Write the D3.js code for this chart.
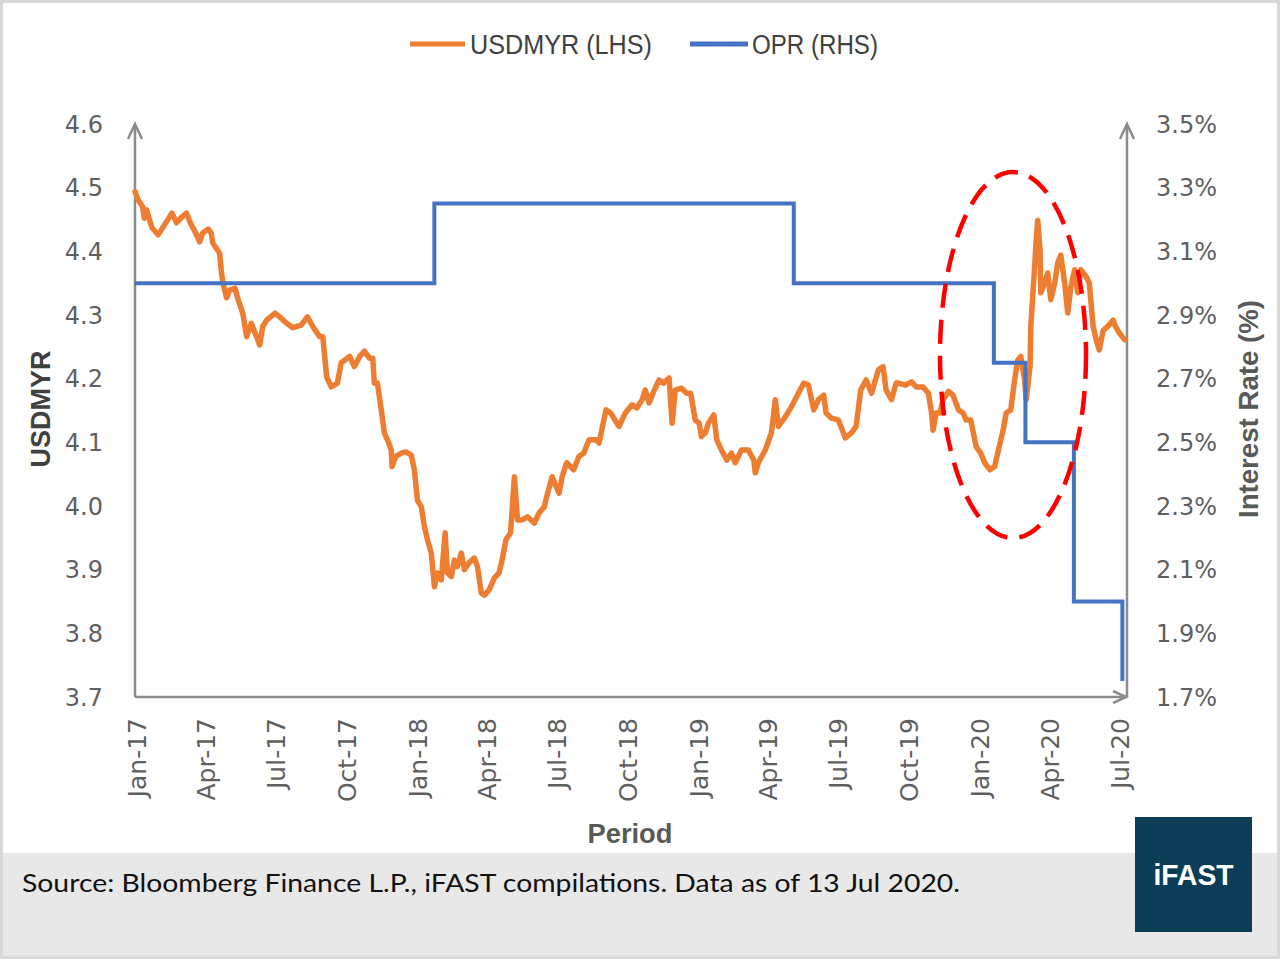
<!DOCTYPE html>
<html>
<head>
<meta charset="utf-8">
<script src="https://cdn.jsdelivr.net/npm/d3@7"></script>
<style>
  html, body { margin: 0; padding: 0; background: #ffffff; }
  svg { display: block; }
</style>
</head>
<body>
<svg id="chart" width="1280" height="961"></svg>
<script>
// ---------------- DATA ----------------
// USDMYR: days since 2017-01-01 and exchange rate
const usdDays = [0,4,10,12,15,22,30,36,48,54,61,67,71,78,84,88,95,99,101,110,112,114,119,123,130,134,140,145,151,158,162,166,171,182,188,197,205,216,224,231,240,244,249,255,263,268,279,285,292,298,305,309,311,315,320,324,328,333,334,339,346,352,359,363,367,372,376,380,385,389,393,398,403,406,411,415,419,424,428,434,441,445,450,454,460,467,473,477,482,488,493,497,503,510,519,525,532,535,542,551,555,561,570,577,583,590,599,603,612,618,629,637,646,652,659,663,668,674,681,687,694,698,702,710,717,722,728,733,736,741,745,752,756,762,769,775,780,788,797,804,806,810,819,827,832,836,845,853,862,869,875,882,888,895,898,905,914,923,931,937,943,950,957,966,972,976,983,989,992,1001,1009,1015,1024,1031,1035,1037,1041,1046,1050,1057,1063,1070,1076,1080,1086,1093,1099,1104,1111,1117,1121,1128,1132,1138,1143,1147,1151,1156,1158,1163,1164,1169,1171,1173,1176,1177,1182,1186,1190,1195,1199,1203,1208,1212,1216,1221,1225,1229,1236,1240,1245,1249,1253,1258,1264,1271,1274,1279,1286];
const usdValues = [4.494,4.481,4.470,4.452,4.465,4.437,4.426,4.437,4.460,4.445,4.454,4.460,4.447,4.431,4.415,4.429,4.435,4.429,4.413,4.397,4.371,4.352,4.327,4.339,4.342,4.324,4.303,4.266,4.287,4.266,4.253,4.282,4.292,4.303,4.297,4.287,4.280,4.284,4.297,4.282,4.266,4.266,4.203,4.187,4.193,4.225,4.235,4.219,4.235,4.243,4.232,4.232,4.193,4.193,4.151,4.115,4.104,4.088,4.062,4.078,4.083,4.085,4.080,4.057,4.009,3.999,3.968,3.947,3.926,3.873,3.895,3.884,3.958,3.895,3.889,3.915,3.905,3.926,3.900,3.911,3.918,3.905,3.863,3.860,3.868,3.887,3.895,3.915,3.947,3.958,4.046,3.978,3.978,3.983,3.973,3.989,3.999,4.015,4.046,4.020,4.046,4.068,4.057,4.078,4.083,4.104,4.104,4.099,4.151,4.146,4.125,4.146,4.159,4.154,4.167,4.182,4.162,4.180,4.198,4.193,4.201,4.130,4.182,4.185,4.177,4.177,4.135,4.130,4.109,4.115,4.130,4.143,4.104,4.088,4.072,4.083,4.068,4.088,4.088,4.072,4.052,4.068,4.088,4.115,4.167,4.125,4.140,4.156,4.177,4.193,4.190,4.151,4.167,4.174,4.146,4.138,4.135,4.107,4.115,4.125,4.182,4.198,4.177,4.214,4.219,4.182,4.167,4.193,4.193,4.190,4.195,4.187,4.187,4.177,4.146,4.119,4.146,4.146,4.167,4.180,4.174,4.151,4.146,4.135,4.135,4.093,4.083,4.068,4.057,4.062,4.083,4.119,4.146,4.151,4.198,4.229,4.235,4.198,4.167,4.219,4.282,4.376,4.418,4.449,4.402,4.335,4.350,4.366,4.324,4.350,4.382,4.394,4.350,4.303,4.344,4.371,4.335,4.371,4.360,4.350,4.282,4.261,4.245,4.276,4.282,4.292,4.282,4.272,4.261];

// OPR (overnight policy rate, %) step changes
const oprDates  = ["2017-01-01","2018-01-25","2019-05-07","2020-01-22","2020-03-03","2020-05-05","2020-07-07"];
const oprValues = [3.00, 3.25, 3.00, 2.75, 2.50, 2.00, 1.75];

// Axis ticks
const leftTicks  = [3.7,3.8,3.9,4.0,4.1,4.2,4.3,4.4,4.5,4.6];
const rightTicks = [1.7,1.9,2.1,2.3,2.5,2.7,2.9,3.1,3.3,3.5];
const xTickLabels = ["Jan-17","Apr-17","Jul-17","Oct-17","Jan-18","Apr-18","Jul-18","Oct-18","Jan-19","Apr-19","Jul-19","Oct-19","Jan-20","Apr-20","Jul-20"];

const seriesNames = ["USDMYR (LHS)", "OPR (RHS)"];
const sourceText = "Source: Bloomberg Finance L.P., iFAST compilations. Data as of 13 Jul 2020.";

// ---------------- LAYOUT ----------------
const svg = d3.select("#chart");
const L = 135, R = 1127, T = 124, B = 697;
const START = new Date(Date.UTC(2017,0,1));
const END = new Date(Date.UTC(2020,6,13));
const parseISO = d3.utcParse("%Y-%m-%d");
const parseTick = d3.utcParse("%b-%y");

const x = d3.scaleUtc().domain([START, END]).range([L, R]);
const yL = d3.scaleLinear().domain([3.7, 4.6]).range([B, T]);
const yR = d3.scaleLinear().domain([1.7, 3.5]).range([B, T]);

const usd = usdDays.map((d,i) => ({date: d3.utcDay.offset(START, d), v: usdValues[i]}));
const opr = oprDates.map((d,i) => ({date: parseISO(d), v: oprValues[i]}));

const tickFont = "'DejaVu Sans', Verdana, sans-serif";
const narrowFont = "'Liberation Sans Narrow', 'Arial Narrow', 'Liberation Sans', sans-serif";
const gray = "#5f5f5f";

// Outer frame
svg.append("rect").attr("x",1.5).attr("y",1.5).attr("width",1277).attr("height",956)
  .attr("fill","#ffffff").attr("stroke","#d9d9d9").attr("stroke-width",3);

// Footer band
svg.append("rect").attr("x",3).attr("y",853).attr("width",1274).attr("height",103).attr("fill","#e8e8e8");
svg.append("text").attr("x",22).attr("y",892)
  .attr("font-family","Lato, 'Open Sans', sans-serif").attr("font-size",25)
  .attr("fill","#111").attr("textLength",938).attr("lengthAdjust","spacingAndGlyphs")
  .text(sourceText);
svg.append("rect").attr("x",1135).attr("y",817).attr("width",117).attr("height",115).attr("fill","#0b3d56");
svg.append("text").attr("x",1193.5).attr("y",885).attr("text-anchor","middle")
  .attr("font-family",narrowFont).attr("font-weight","bold").attr("font-size",30)
  .attr("fill","#ffffff").attr("textLength",80).attr("lengthAdjust","spacingAndGlyphs").text("iFAST");

// Axes lines with arrows
const axisColor = "#8c8c8c";
const ax = svg.append("g").attr("fill","none").attr("stroke",axisColor).attr("stroke-width",2.5);
ax.append("path").attr("d", `M${L},${B} V${T+1}`);
ax.append("path").attr("d", `M${L-7},${T+15} L${L},${T} L${L+7},${T+15}`);
ax.append("path").attr("d", `M${R},${B} V${T+1}`);
ax.append("path").attr("d", `M${R-7},${T+15} L${R},${T} L${R+7},${T+15}`);
ax.append("path").attr("d", `M${L},${B} H${R}`);
ax.append("path").attr("d", `M${R-14},${B-6} L${R-1},${B} L${R-14},${B+6}`);

// Left tick labels
svg.append("g").selectAll("text").data(leftTicks).join("text")
  .attr("x", 103).attr("y", d => yL(d)).attr("dy","0.36em")
  .attr("text-anchor","end").attr("font-family",tickFont).attr("font-size",24).attr("fill",gray)
  .text(d => d3.format(".1f")(d));

// Right tick labels
svg.append("g").selectAll("text").data(rightTicks).join("text")
  .attr("x", 1156).attr("y", d => yR(d)).attr("dy","0.36em")
  .attr("text-anchor","start").attr("font-family",tickFont).attr("font-size",24).attr("fill",gray)
  .text(d => d3.format(".1f")(d) + "%");

// X tick labels (rotated)
svg.append("g").selectAll("text").data(xTickLabels).join("text")
  .attr("transform", d => `translate(${x(parseTick(d))+2},718) rotate(-90)`)
  .attr("dy","0.36em").attr("text-anchor","end")
  .attr("font-family",tickFont).attr("font-size",25).attr("fill",gray)
  .text(d => d);

// Axis titles
svg.append("text").attr("transform","translate(40,409) rotate(-90)")
  .attr("text-anchor","middle").attr("dy","0.36em")
  .attr("font-family",narrowFont).attr("font-weight","bold").attr("font-size",27).attr("fill","#404040")
  .attr("textLength",117).attr("lengthAdjust","spacingAndGlyphs").text("USDMYR");
svg.append("text").attr("transform","translate(1248,409) rotate(-90)")
  .attr("text-anchor","middle").attr("dy","0.36em")
  .attr("font-family",narrowFont).attr("font-weight","bold").attr("font-size",27).attr("fill","#595959")
  .attr("textLength",218).attr("lengthAdjust","spacingAndGlyphs").text("Interest Rate (%)");
svg.append("text").attr("x",630).attr("y",833).attr("dy","0.36em").attr("text-anchor","middle")
  .attr("font-family",narrowFont).attr("font-weight","bold").attr("font-size",27).attr("fill","#595959")
  .attr("textLength",85).attr("lengthAdjust","spacingAndGlyphs").text("Period");

// Lines
const usdLine = d3.line().x(d => x(d.date)).y(d => yL(d.v)).curve(d3.curveLinear);
const oprLine = d3.line().x(d => x(d.date)).y(d => yR(d.v)).curve(d3.curveStepAfter);

svg.append("path").datum(usd).attr("d", usdLine)
  .attr("fill","none").attr("stroke","#ed7d31").attr("stroke-width",5.5)
  .attr("stroke-linejoin","round").attr("stroke-linecap","round");
svg.append("path").datum(opr).attr("d", oprLine)
  .attr("fill","none").attr("stroke","#4472c4").attr("stroke-width",4);

// Red dashed ellipse highlight
svg.append("ellipse").attr("cx",1013).attr("cy",355).attr("rx",73).attr("ry",183)
  .attr("fill","none").attr("stroke","#ff0000").attr("stroke-width",4.5)
  .attr("stroke-dasharray","24 12");

// Legend
const legend = svg.append("g");
const legItems = [
  {name: seriesNames[0], color: "#ed7d31", x1: 410, x2: 465, tx: 470, tl: 182},
  {name: seriesNames[1], color: "#4472c4", x1: 690, x2: 748, tx: 752, tl: 126}
];
legItems.forEach(it => {
  legend.append("line").attr("x1",it.x1).attr("x2",it.x2).attr("y1",44).attr("y2",44)
    .attr("stroke",it.color).attr("stroke-width",5);
  legend.append("text").attr("x",it.tx).attr("y",44).attr("dy","0.36em")
    .attr("font-family",narrowFont).attr("font-size",27).attr("fill","#404040")
    .attr("textLength",it.tl).attr("lengthAdjust","spacingAndGlyphs").text(it.name);
});
</script>
</body>
</html>
